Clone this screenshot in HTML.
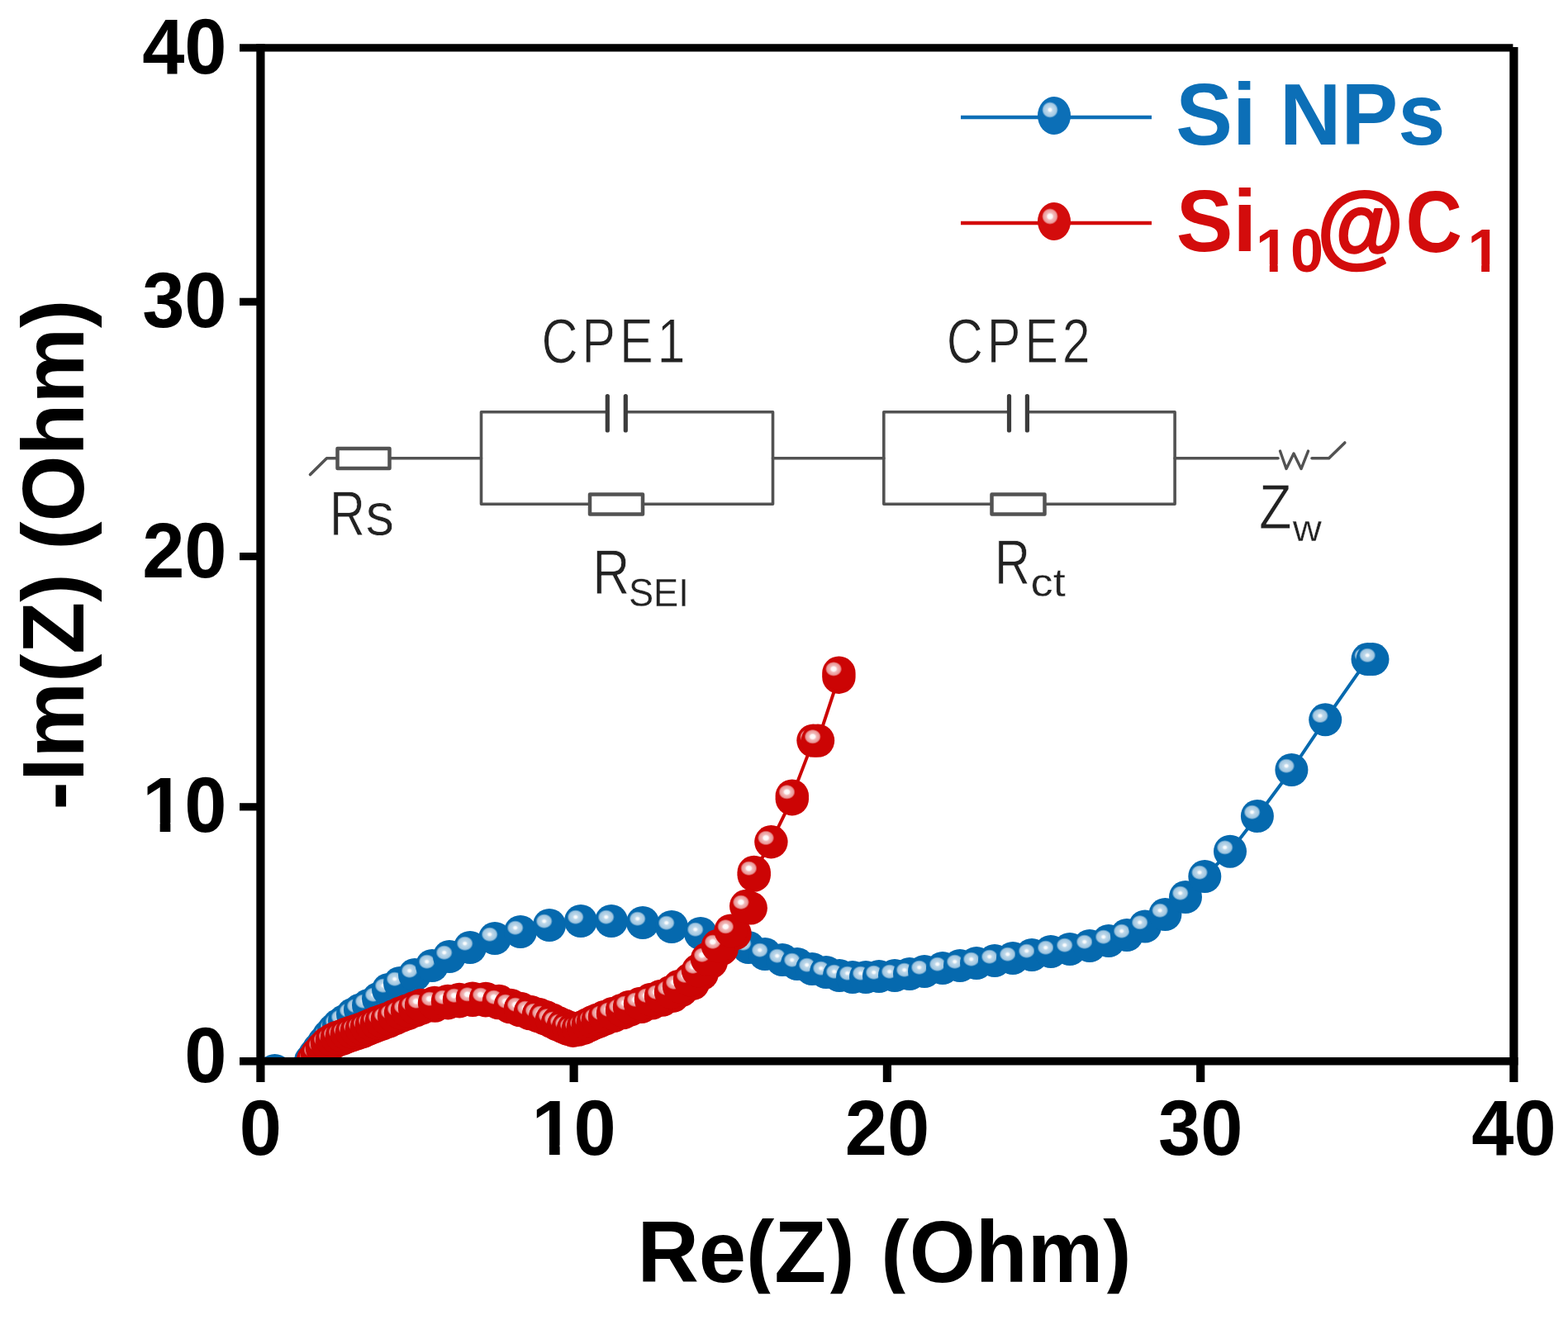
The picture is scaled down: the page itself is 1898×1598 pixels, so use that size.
<!DOCTYPE html>
<html lang="en">
<head>
<meta charset="utf-8">
<title>Nyquist plot - Si NPs vs Si10@C1</title>
<style>
html,body{margin:0;padding:0;background:#ffffff;}
body{width:1898px;height:1598px;overflow:hidden;}
svg{display:block;}
text{font-family:"Liberation Sans",Arial,Helvetica,sans-serif;}
.b{font-weight:700;}
.tick{font-size:92px;font-weight:700;fill:#000;}
.axl{font-size:103px;font-weight:700;fill:#000;}
.leg{font-size:103px;font-weight:700;}
.ckt{font-weight:400;fill:#222;}
</style>
</head>
<body>
<svg width="1898" height="1598" viewBox="0 0 1898 1598">
<defs>
<radialGradient id="hb" cx="0.5" cy="0.5" r="0.5">
<stop offset="0" stop-color="#ffffff" stop-opacity="1"/>
<stop offset="0.16" stop-color="#ffffff" stop-opacity="0.95"/>
<stop offset="0.34" stop-color="#ffffff" stop-opacity="0.74"/>
<stop offset="0.78" stop-color="#ffffff" stop-opacity="0.62"/>
<stop offset="1" stop-color="#ffffff" stop-opacity="0"/>
</radialGradient>
<radialGradient id="hr" cx="0.5" cy="0.5" r="0.5">
<stop offset="0" stop-color="#ffffff" stop-opacity="1"/>
<stop offset="0.28" stop-color="#ffffff" stop-opacity="0.96"/>
<stop offset="0.46" stop-color="#ffffff" stop-opacity="0.72"/>
<stop offset="0.8" stop-color="#ffffff" stop-opacity="0.58"/>
<stop offset="1" stop-color="#ffffff" stop-opacity="0"/>
</radialGradient>
<clipPath id="plot"><rect x="315.4" y="57.9" width="1517.0" height="1226.8"/></clipPath>
</defs>
<rect x="0" y="0" width="1898" height="1598" fill="#ffffff"/>

<g clip-path="url(#plot)">
<polyline fill="none" stroke="#0569ae" stroke-width="4" stroke-linejoin="round" points="332.6,1296.0 376.0,1284.0 381.0,1277.0 386.0,1270.0 392.0,1262.0 398.0,1254.0 404.0,1247.0 410.0,1241.0 417.0,1236.0 427.0,1228.0 436.0,1222.5 446.0,1217.0 458.0,1209.0 470.0,1198.0 484.0,1190.0 502.0,1180.0 523.0,1169.0 544.0,1158.0 569.0,1147.0 599.0,1136.0 630.0,1128.0 665.0,1120.0 703.0,1115.0 740.0,1115.0 778.0,1117.0 813.0,1122.0 848.0,1130.0 878.0,1138.0 906.0,1147.0 926.0,1155.0 947.0,1162.0 965.0,1167.0 983.0,1173.0 1000.0,1177.0 1016.0,1181.0 1032.0,1183.0 1048.0,1183.0 1064.0,1182.0 1083.0,1181.0 1101.0,1179.0 1119.0,1176.0 1141.0,1172.0 1162.0,1169.0 1182.0,1166.0 1204.0,1163.0 1226.0,1160.0 1249.0,1156.0 1272.0,1152.0 1295.0,1149.0 1319.0,1145.0 1342.0,1139.0 1364.0,1132.0 1386.0,1121.5 1410.4,1107.0 1435.0,1086.0 1458.3,1061.0 1489.0,1030.7 1521.9,988.0 1563.4,932.0 1604.2,871.3 1655.5,798.1 1661.5,798.1"/>
<circle cx="332.6" cy="1296.0" r="20.0" fill="#0569ae"/><ellipse cx="326.3" cy="1291.2" rx="10.2" ry="9" fill="url(#hb)"/>
<circle cx="376.0" cy="1284.0" r="20.0" fill="#0569ae"/><ellipse cx="369.7" cy="1279.2" rx="10.2" ry="9" fill="url(#hb)"/>
<circle cx="381.0" cy="1277.0" r="20.0" fill="#0569ae"/><ellipse cx="374.7" cy="1272.2" rx="10.2" ry="9" fill="url(#hb)"/>
<circle cx="386.0" cy="1270.0" r="20.0" fill="#0569ae"/><ellipse cx="379.7" cy="1265.2" rx="10.2" ry="9" fill="url(#hb)"/>
<circle cx="392.0" cy="1262.0" r="20.0" fill="#0569ae"/><ellipse cx="385.7" cy="1257.2" rx="10.2" ry="9" fill="url(#hb)"/>
<circle cx="398.0" cy="1254.0" r="20.0" fill="#0569ae"/><ellipse cx="391.7" cy="1249.2" rx="10.2" ry="9" fill="url(#hb)"/>
<circle cx="404.0" cy="1247.0" r="20.0" fill="#0569ae"/><ellipse cx="397.7" cy="1242.2" rx="10.2" ry="9" fill="url(#hb)"/>
<circle cx="410.0" cy="1241.0" r="20.0" fill="#0569ae"/><ellipse cx="403.7" cy="1236.2" rx="10.2" ry="9" fill="url(#hb)"/>
<circle cx="417.0" cy="1236.0" r="20.0" fill="#0569ae"/><ellipse cx="410.7" cy="1231.2" rx="10.2" ry="9" fill="url(#hb)"/>
<circle cx="427.0" cy="1228.0" r="20.0" fill="#0569ae"/><ellipse cx="420.7" cy="1223.2" rx="10.2" ry="9" fill="url(#hb)"/>
<circle cx="436.0" cy="1222.5" r="20.0" fill="#0569ae"/><ellipse cx="429.7" cy="1217.7" rx="10.2" ry="9" fill="url(#hb)"/>
<circle cx="446.0" cy="1217.0" r="20.0" fill="#0569ae"/><ellipse cx="439.7" cy="1212.2" rx="10.2" ry="9" fill="url(#hb)"/>
<circle cx="458.0" cy="1209.0" r="20.0" fill="#0569ae"/><ellipse cx="451.7" cy="1204.2" rx="10.2" ry="9" fill="url(#hb)"/>
<circle cx="470.0" cy="1198.0" r="20.0" fill="#0569ae"/><ellipse cx="463.7" cy="1193.2" rx="10.2" ry="9" fill="url(#hb)"/>
<circle cx="484.0" cy="1190.0" r="20.0" fill="#0569ae"/><ellipse cx="477.7" cy="1185.2" rx="10.2" ry="9" fill="url(#hb)"/>
<circle cx="502.0" cy="1180.0" r="20.0" fill="#0569ae"/><ellipse cx="495.7" cy="1175.2" rx="10.2" ry="9" fill="url(#hb)"/>
<circle cx="523.0" cy="1169.0" r="20.0" fill="#0569ae"/><ellipse cx="516.7" cy="1164.2" rx="10.2" ry="9" fill="url(#hb)"/>
<circle cx="544.0" cy="1158.0" r="20.0" fill="#0569ae"/><ellipse cx="537.7" cy="1153.2" rx="10.2" ry="9" fill="url(#hb)"/>
<circle cx="569.0" cy="1147.0" r="20.0" fill="#0569ae"/><ellipse cx="562.7" cy="1142.2" rx="10.2" ry="9" fill="url(#hb)"/>
<circle cx="599.0" cy="1136.0" r="20.0" fill="#0569ae"/><ellipse cx="592.7" cy="1131.2" rx="10.2" ry="9" fill="url(#hb)"/>
<circle cx="630.0" cy="1128.0" r="20.0" fill="#0569ae"/><ellipse cx="623.7" cy="1123.2" rx="10.2" ry="9" fill="url(#hb)"/>
<circle cx="665.0" cy="1120.0" r="20.0" fill="#0569ae"/><ellipse cx="658.7" cy="1115.2" rx="10.2" ry="9" fill="url(#hb)"/>
<circle cx="703.0" cy="1115.0" r="20.0" fill="#0569ae"/><ellipse cx="696.7" cy="1110.2" rx="10.2" ry="9" fill="url(#hb)"/>
<circle cx="740.0" cy="1115.0" r="20.0" fill="#0569ae"/><ellipse cx="733.7" cy="1110.2" rx="10.2" ry="9" fill="url(#hb)"/>
<circle cx="778.0" cy="1117.0" r="20.0" fill="#0569ae"/><ellipse cx="771.7" cy="1112.2" rx="10.2" ry="9" fill="url(#hb)"/>
<circle cx="813.0" cy="1122.0" r="20.0" fill="#0569ae"/><ellipse cx="806.7" cy="1117.2" rx="10.2" ry="9" fill="url(#hb)"/>
<circle cx="848.0" cy="1130.0" r="20.0" fill="#0569ae"/><ellipse cx="841.7" cy="1125.2" rx="10.2" ry="9" fill="url(#hb)"/>
<circle cx="878.0" cy="1138.0" r="20.0" fill="#0569ae"/><ellipse cx="871.7" cy="1133.2" rx="10.2" ry="9" fill="url(#hb)"/>
<circle cx="906.0" cy="1147.0" r="20.0" fill="#0569ae"/><ellipse cx="899.7" cy="1142.2" rx="10.2" ry="9" fill="url(#hb)"/>
<circle cx="926.0" cy="1155.0" r="20.0" fill="#0569ae"/><ellipse cx="919.7" cy="1150.2" rx="10.2" ry="9" fill="url(#hb)"/>
<circle cx="947.0" cy="1162.0" r="20.0" fill="#0569ae"/><ellipse cx="940.7" cy="1157.2" rx="10.2" ry="9" fill="url(#hb)"/>
<circle cx="965.0" cy="1167.0" r="20.0" fill="#0569ae"/><ellipse cx="958.7" cy="1162.2" rx="10.2" ry="9" fill="url(#hb)"/>
<circle cx="983.0" cy="1173.0" r="20.0" fill="#0569ae"/><ellipse cx="976.7" cy="1168.2" rx="10.2" ry="9" fill="url(#hb)"/>
<circle cx="1000.0" cy="1177.0" r="20.0" fill="#0569ae"/><ellipse cx="993.7" cy="1172.2" rx="10.2" ry="9" fill="url(#hb)"/>
<circle cx="1016.0" cy="1181.0" r="20.0" fill="#0569ae"/><ellipse cx="1009.7" cy="1176.2" rx="10.2" ry="9" fill="url(#hb)"/>
<circle cx="1032.0" cy="1183.0" r="20.0" fill="#0569ae"/><ellipse cx="1025.7" cy="1178.2" rx="10.2" ry="9" fill="url(#hb)"/>
<circle cx="1048.0" cy="1183.0" r="20.0" fill="#0569ae"/><ellipse cx="1041.7" cy="1178.2" rx="10.2" ry="9" fill="url(#hb)"/>
<circle cx="1064.0" cy="1182.0" r="20.0" fill="#0569ae"/><ellipse cx="1057.7" cy="1177.2" rx="10.2" ry="9" fill="url(#hb)"/>
<circle cx="1083.0" cy="1181.0" r="20.0" fill="#0569ae"/><ellipse cx="1076.7" cy="1176.2" rx="10.2" ry="9" fill="url(#hb)"/>
<circle cx="1101.0" cy="1179.0" r="20.0" fill="#0569ae"/><ellipse cx="1094.7" cy="1174.2" rx="10.2" ry="9" fill="url(#hb)"/>
<circle cx="1119.0" cy="1176.0" r="20.0" fill="#0569ae"/><ellipse cx="1112.7" cy="1171.2" rx="10.2" ry="9" fill="url(#hb)"/>
<circle cx="1141.0" cy="1172.0" r="20.0" fill="#0569ae"/><ellipse cx="1134.7" cy="1167.2" rx="10.2" ry="9" fill="url(#hb)"/>
<circle cx="1162.0" cy="1169.0" r="20.0" fill="#0569ae"/><ellipse cx="1155.7" cy="1164.2" rx="10.2" ry="9" fill="url(#hb)"/>
<circle cx="1182.0" cy="1166.0" r="20.0" fill="#0569ae"/><ellipse cx="1175.7" cy="1161.2" rx="10.2" ry="9" fill="url(#hb)"/>
<circle cx="1204.0" cy="1163.0" r="20.0" fill="#0569ae"/><ellipse cx="1197.7" cy="1158.2" rx="10.2" ry="9" fill="url(#hb)"/>
<circle cx="1226.0" cy="1160.0" r="20.0" fill="#0569ae"/><ellipse cx="1219.7" cy="1155.2" rx="10.2" ry="9" fill="url(#hb)"/>
<circle cx="1249.0" cy="1156.0" r="20.0" fill="#0569ae"/><ellipse cx="1242.7" cy="1151.2" rx="10.2" ry="9" fill="url(#hb)"/>
<circle cx="1272.0" cy="1152.0" r="20.0" fill="#0569ae"/><ellipse cx="1265.7" cy="1147.2" rx="10.2" ry="9" fill="url(#hb)"/>
<circle cx="1295.0" cy="1149.0" r="20.0" fill="#0569ae"/><ellipse cx="1288.7" cy="1144.2" rx="10.2" ry="9" fill="url(#hb)"/>
<circle cx="1319.0" cy="1145.0" r="20.0" fill="#0569ae"/><ellipse cx="1312.7" cy="1140.2" rx="10.2" ry="9" fill="url(#hb)"/>
<circle cx="1342.0" cy="1139.0" r="20.0" fill="#0569ae"/><ellipse cx="1335.7" cy="1134.2" rx="10.2" ry="9" fill="url(#hb)"/>
<circle cx="1364.0" cy="1132.0" r="20.0" fill="#0569ae"/><ellipse cx="1357.7" cy="1127.2" rx="10.2" ry="9" fill="url(#hb)"/>
<circle cx="1386.0" cy="1121.5" r="20.0" fill="#0569ae"/><ellipse cx="1379.7" cy="1116.7" rx="10.2" ry="9" fill="url(#hb)"/>
<circle cx="1410.4" cy="1107.0" r="20.0" fill="#0569ae"/><ellipse cx="1404.1" cy="1102.2" rx="10.2" ry="9" fill="url(#hb)"/>
<circle cx="1435.0" cy="1086.0" r="20.0" fill="#0569ae"/><ellipse cx="1428.7" cy="1081.2" rx="10.2" ry="9" fill="url(#hb)"/>
<circle cx="1458.3" cy="1061.0" r="20.0" fill="#0569ae"/><ellipse cx="1452.0" cy="1056.2" rx="10.2" ry="9" fill="url(#hb)"/>
<circle cx="1489.0" cy="1030.7" r="20.0" fill="#0569ae"/><ellipse cx="1482.7" cy="1025.9" rx="10.2" ry="9" fill="url(#hb)"/>
<circle cx="1521.9" cy="988.0" r="20.0" fill="#0569ae"/><ellipse cx="1515.6" cy="983.2" rx="10.2" ry="9" fill="url(#hb)"/>
<circle cx="1563.4" cy="932.0" r="20.0" fill="#0569ae"/><ellipse cx="1557.1" cy="927.2" rx="10.2" ry="9" fill="url(#hb)"/>
<circle cx="1604.2" cy="871.3" r="20.0" fill="#0569ae"/><ellipse cx="1597.9" cy="866.5" rx="10.2" ry="9" fill="url(#hb)"/>
<circle cx="1655.5" cy="798.1" r="20.0" fill="#0569ae"/><ellipse cx="1649.2" cy="793.3" rx="10.2" ry="9" fill="url(#hb)"/>
<circle cx="1661.5" cy="798.1" r="20.0" fill="#0569ae"/><ellipse cx="1655.2" cy="793.3" rx="10.2" ry="9" fill="url(#hb)"/>
<circle cx="381.8" cy="1285.0" r="20.2" fill="#cc0404"/>
<circle cx="386.8" cy="1278.2" r="20.2" fill="#cc0404"/>
<circle cx="392.6" cy="1271.4" r="20.2" fill="#cc0404"/>
<circle cx="398.2" cy="1265.7" r="20.2" fill="#cc0404"/>
<circle cx="403.8" cy="1262.0" r="20.2" fill="#cc0404"/>
<circle cx="409.3" cy="1259.2" r="20.2" fill="#cc0404"/>
<circle cx="415.2" cy="1257.3" r="20.2" fill="#cc0404"/>
<circle cx="421.2" cy="1254.8" r="20.2" fill="#cc0404"/>
<circle cx="427.1" cy="1252.8" r="20.2" fill="#cc0404"/>
<circle cx="433.1" cy="1250.8" r="20.2" fill="#cc0404"/>
<circle cx="439.2" cy="1248.8" r="20.2" fill="#cc0404"/>
<circle cx="445.3" cy="1246.2" r="20.2" fill="#cc0404"/>
<circle cx="451.3" cy="1243.7" r="20.2" fill="#cc0404"/>
<circle cx="457.2" cy="1241.3" r="20.2" fill="#cc0404"/>
<circle cx="463.1" cy="1239.3" r="20.2" fill="#cc0404"/>
<circle cx="470.3" cy="1236.7" r="20.2" fill="#cc0404"/>
<circle cx="478.4" cy="1233.2" r="20.2" fill="#cc0404"/>
<circle cx="486.3" cy="1229.7" r="20.2" fill="#cc0404"/>
<circle cx="494.2" cy="1226.8" r="20.2" fill="#cc0404"/>
<circle cx="503.2" cy="1223.3" r="20.2" fill="#cc0404"/>
<circle cx="510.8" cy="1220.4" r="20.2" fill="#cc0404"/>
<circle cx="526.5" cy="1217.5" r="20.2" fill="#cc0404"/>
<circle cx="542.3" cy="1214.2" r="20.2" fill="#cc0404"/>
<circle cx="556.2" cy="1212.2" r="20.2" fill="#cc0404"/>
<circle cx="572.1" cy="1210.8" r="20.2" fill="#cc0404"/>
<circle cx="587.8" cy="1211.2" r="20.2" fill="#cc0404"/>
<circle cx="603.4" cy="1214.1" r="20.2" fill="#cc0404"/>
<circle cx="617.3" cy="1219.1" r="20.2" fill="#cc0404"/>
<circle cx="629.3" cy="1223.1" r="20.2" fill="#cc0404"/>
<circle cx="641.3" cy="1227.1" r="20.2" fill="#cc0404"/>
<circle cx="651.3" cy="1230.1" r="20.2" fill="#cc0404"/>
<circle cx="659.2" cy="1233.0" r="20.2" fill="#cc0404"/>
<circle cx="667.1" cy="1236.5" r="20.2" fill="#cc0404"/>
<circle cx="674.1" cy="1240.0" r="20.2" fill="#cc0404"/>
<circle cx="681.1" cy="1243.0" r="20.2" fill="#cc0404"/>
<circle cx="687.2" cy="1245.6" r="20.2" fill="#cc0404"/>
<circle cx="693.7" cy="1247.7" r="20.2" fill="#cc0404"/>
<circle cx="700.3" cy="1246.5" r="20.2" fill="#cc0404"/>
<circle cx="706.7" cy="1244.6" r="20.2" fill="#cc0404"/>
<circle cx="712.9" cy="1241.7" r="20.2" fill="#cc0404"/>
<circle cx="718.9" cy="1238.9" r="20.2" fill="#cc0404"/>
<circle cx="724.9" cy="1236.6" r="20.2" fill="#cc0404"/>
<circle cx="733.0" cy="1233.4" r="20.2" fill="#cc0404"/>
<circle cx="743.1" cy="1229.8" r="20.2" fill="#cc0404"/>
<circle cx="754.2" cy="1226.1" r="20.2" fill="#cc0404"/>
<circle cx="763.2" cy="1222.4" r="20.2" fill="#cc0404"/>
<circle cx="776.3" cy="1218.9" r="20.2" fill="#cc0404"/>
<circle cx="789.5" cy="1214.3" r="20.2" fill="#cc0404"/>
<circle cx="801.7" cy="1210.6" r="20.2" fill="#cc0404"/>
<circle cx="814.6" cy="1205.7" r="20.2" fill="#cc0404"/>
<circle cx="825.1" cy="1198.8" r="20.2" fill="#cc0404"/>
<circle cx="838.8" cy="1190.6" r="20.2" fill="#cc0404"/>
<circle cx="849.6" cy="1178.9" r="20.2" fill="#cc0404"/>
<circle cx="860.7" cy="1164.7" r="20.2" fill="#cc0404"/>
<circle cx="873.6" cy="1148.8" r="20.2" fill="#cc0404"/>
<circle cx="889.5" cy="1130.1" r="20.2" fill="#cc0404"/>
<circle cx="908.7" cy="1099.3" r="20.2" fill="#cc0404"/>
<polyline fill="none" stroke="#cc0404" stroke-width="4" stroke-linejoin="round" points="379.0,1283.0 384.0,1276.0 390.0,1269.0 396.0,1263.0 402.0,1259.0 408.0,1256.0 414.0,1254.0 420.0,1251.5 426.0,1249.5 432.0,1247.5 438.0,1245.5 444.0,1243.0 450.0,1240.5 456.0,1238.0 462.0,1236.0 469.0,1233.5 477.0,1230.0 485.0,1226.5 493.0,1223.5 502.0,1220.0 510.0,1217.0 526.0,1214.0 542.0,1212.0 556.0,1210.0 572.0,1208.6 588.0,1209.0 604.0,1212.0 618.0,1217.0 630.0,1221.0 642.0,1225.0 652.0,1228.0 660.0,1231.0 668.0,1234.5 675.0,1238.0 682.0,1241.0 688.0,1243.5 694.0,1245.5 700.0,1245.0 706.0,1243.0 712.0,1240.0 718.0,1237.0 724.0,1234.5 732.0,1231.0 742.0,1227.0 753.0,1223.0 762.0,1219.0 775.0,1215.0 788.0,1210.0 800.0,1206.0 812.0,1201.0 822.0,1194.0 835.0,1186.0 845.0,1175.0 856.0,1161.0 869.0,1145.0 884.6,1126.6 903.2,1097.0 912.7,1059.5 912.7,1056.0 933.4,1019.2 958.8,967.2 958.8,963.6 984.5,896.6 990.0,896.6 1015.4,819.7 1015.4,814.7"/>
<circle cx="379.0" cy="1283.0" r="20.2" fill="#cc0404"/><ellipse cx="372.7" cy="1278.2" rx="10.2" ry="9" fill="url(#hr)"/>
<circle cx="384.0" cy="1276.0" r="20.2" fill="#cc0404"/><ellipse cx="377.7" cy="1271.2" rx="10.2" ry="9" fill="url(#hr)"/>
<circle cx="390.0" cy="1269.0" r="20.2" fill="#cc0404"/><ellipse cx="383.7" cy="1264.2" rx="10.2" ry="9" fill="url(#hr)"/>
<circle cx="396.0" cy="1263.0" r="20.2" fill="#cc0404"/><ellipse cx="389.7" cy="1258.2" rx="10.2" ry="9" fill="url(#hr)"/>
<circle cx="402.0" cy="1259.0" r="20.2" fill="#cc0404"/><ellipse cx="395.7" cy="1254.2" rx="10.2" ry="9" fill="url(#hr)"/>
<circle cx="408.0" cy="1256.0" r="20.2" fill="#cc0404"/><ellipse cx="401.7" cy="1251.2" rx="10.2" ry="9" fill="url(#hr)"/>
<circle cx="414.0" cy="1254.0" r="20.2" fill="#cc0404"/><ellipse cx="407.7" cy="1249.2" rx="10.2" ry="9" fill="url(#hr)"/>
<circle cx="420.0" cy="1251.5" r="20.2" fill="#cc0404"/><ellipse cx="413.7" cy="1246.7" rx="10.2" ry="9" fill="url(#hr)"/>
<circle cx="426.0" cy="1249.5" r="20.2" fill="#cc0404"/><ellipse cx="419.7" cy="1244.7" rx="10.2" ry="9" fill="url(#hr)"/>
<circle cx="432.0" cy="1247.5" r="20.2" fill="#cc0404"/><ellipse cx="425.7" cy="1242.7" rx="10.2" ry="9" fill="url(#hr)"/>
<circle cx="438.0" cy="1245.5" r="20.2" fill="#cc0404"/><ellipse cx="431.7" cy="1240.7" rx="10.2" ry="9" fill="url(#hr)"/>
<circle cx="444.0" cy="1243.0" r="20.2" fill="#cc0404"/><ellipse cx="437.7" cy="1238.2" rx="10.2" ry="9" fill="url(#hr)"/>
<circle cx="450.0" cy="1240.5" r="20.2" fill="#cc0404"/><ellipse cx="443.7" cy="1235.7" rx="10.2" ry="9" fill="url(#hr)"/>
<circle cx="456.0" cy="1238.0" r="20.2" fill="#cc0404"/><ellipse cx="449.7" cy="1233.2" rx="10.2" ry="9" fill="url(#hr)"/>
<circle cx="462.0" cy="1236.0" r="20.2" fill="#cc0404"/><ellipse cx="455.7" cy="1231.2" rx="10.2" ry="9" fill="url(#hr)"/>
<circle cx="469.0" cy="1233.5" r="20.2" fill="#cc0404"/><ellipse cx="462.7" cy="1228.7" rx="10.2" ry="9" fill="url(#hr)"/>
<circle cx="477.0" cy="1230.0" r="20.2" fill="#cc0404"/><ellipse cx="470.7" cy="1225.2" rx="10.2" ry="9" fill="url(#hr)"/>
<circle cx="485.0" cy="1226.5" r="20.2" fill="#cc0404"/><ellipse cx="478.7" cy="1221.7" rx="10.2" ry="9" fill="url(#hr)"/>
<circle cx="493.0" cy="1223.5" r="20.2" fill="#cc0404"/><ellipse cx="486.7" cy="1218.7" rx="10.2" ry="9" fill="url(#hr)"/>
<circle cx="502.0" cy="1220.0" r="20.2" fill="#cc0404"/><ellipse cx="495.7" cy="1215.2" rx="10.2" ry="9" fill="url(#hr)"/>
<circle cx="510.0" cy="1217.0" r="20.2" fill="#cc0404"/><ellipse cx="503.7" cy="1212.2" rx="10.2" ry="9" fill="url(#hr)"/>
<circle cx="526.0" cy="1214.0" r="20.2" fill="#cc0404"/><ellipse cx="519.7" cy="1209.2" rx="10.2" ry="9" fill="url(#hr)"/>
<circle cx="542.0" cy="1212.0" r="20.2" fill="#cc0404"/><ellipse cx="535.7" cy="1207.2" rx="10.2" ry="9" fill="url(#hr)"/>
<circle cx="556.0" cy="1210.0" r="20.2" fill="#cc0404"/><ellipse cx="549.7" cy="1205.2" rx="10.2" ry="9" fill="url(#hr)"/>
<circle cx="572.0" cy="1208.6" r="20.2" fill="#cc0404"/><ellipse cx="565.7" cy="1203.8" rx="10.2" ry="9" fill="url(#hr)"/>
<circle cx="588.0" cy="1209.0" r="20.2" fill="#cc0404"/><ellipse cx="581.7" cy="1204.2" rx="10.2" ry="9" fill="url(#hr)"/>
<circle cx="604.0" cy="1212.0" r="20.2" fill="#cc0404"/><ellipse cx="597.7" cy="1207.2" rx="10.2" ry="9" fill="url(#hr)"/>
<circle cx="618.0" cy="1217.0" r="20.2" fill="#cc0404"/><ellipse cx="611.7" cy="1212.2" rx="10.2" ry="9" fill="url(#hr)"/>
<circle cx="630.0" cy="1221.0" r="20.2" fill="#cc0404"/><ellipse cx="623.7" cy="1216.2" rx="10.2" ry="9" fill="url(#hr)"/>
<circle cx="642.0" cy="1225.0" r="20.2" fill="#cc0404"/><ellipse cx="635.7" cy="1220.2" rx="10.2" ry="9" fill="url(#hr)"/>
<circle cx="652.0" cy="1228.0" r="20.2" fill="#cc0404"/><ellipse cx="645.7" cy="1223.2" rx="10.2" ry="9" fill="url(#hr)"/>
<circle cx="660.0" cy="1231.0" r="20.2" fill="#cc0404"/><ellipse cx="653.7" cy="1226.2" rx="10.2" ry="9" fill="url(#hr)"/>
<circle cx="668.0" cy="1234.5" r="20.2" fill="#cc0404"/><ellipse cx="661.7" cy="1229.7" rx="10.2" ry="9" fill="url(#hr)"/>
<circle cx="675.0" cy="1238.0" r="20.2" fill="#cc0404"/><ellipse cx="668.7" cy="1233.2" rx="10.2" ry="9" fill="url(#hr)"/>
<circle cx="682.0" cy="1241.0" r="20.2" fill="#cc0404"/><ellipse cx="675.7" cy="1236.2" rx="10.2" ry="9" fill="url(#hr)"/>
<circle cx="688.0" cy="1243.5" r="20.2" fill="#cc0404"/><ellipse cx="681.7" cy="1238.7" rx="10.2" ry="9" fill="url(#hr)"/>
<circle cx="694.0" cy="1245.5" r="20.2" fill="#cc0404"/><ellipse cx="687.7" cy="1240.7" rx="10.2" ry="9" fill="url(#hr)"/>
<circle cx="700.0" cy="1245.0" r="20.2" fill="#cc0404"/><ellipse cx="693.7" cy="1240.2" rx="10.2" ry="9" fill="url(#hr)"/>
<circle cx="706.0" cy="1243.0" r="20.2" fill="#cc0404"/><ellipse cx="699.7" cy="1238.2" rx="10.2" ry="9" fill="url(#hr)"/>
<circle cx="712.0" cy="1240.0" r="20.2" fill="#cc0404"/><ellipse cx="705.7" cy="1235.2" rx="10.2" ry="9" fill="url(#hr)"/>
<circle cx="718.0" cy="1237.0" r="20.2" fill="#cc0404"/><ellipse cx="711.7" cy="1232.2" rx="10.2" ry="9" fill="url(#hr)"/>
<circle cx="724.0" cy="1234.5" r="20.2" fill="#cc0404"/><ellipse cx="717.7" cy="1229.7" rx="10.2" ry="9" fill="url(#hr)"/>
<circle cx="732.0" cy="1231.0" r="20.2" fill="#cc0404"/><ellipse cx="725.7" cy="1226.2" rx="10.2" ry="9" fill="url(#hr)"/>
<circle cx="742.0" cy="1227.0" r="20.2" fill="#cc0404"/><ellipse cx="735.7" cy="1222.2" rx="10.2" ry="9" fill="url(#hr)"/>
<circle cx="753.0" cy="1223.0" r="20.2" fill="#cc0404"/><ellipse cx="746.7" cy="1218.2" rx="10.2" ry="9" fill="url(#hr)"/>
<circle cx="762.0" cy="1219.0" r="20.2" fill="#cc0404"/><ellipse cx="755.7" cy="1214.2" rx="10.2" ry="9" fill="url(#hr)"/>
<circle cx="775.0" cy="1215.0" r="20.2" fill="#cc0404"/><ellipse cx="768.7" cy="1210.2" rx="10.2" ry="9" fill="url(#hr)"/>
<circle cx="788.0" cy="1210.0" r="20.2" fill="#cc0404"/><ellipse cx="781.7" cy="1205.2" rx="10.2" ry="9" fill="url(#hr)"/>
<circle cx="800.0" cy="1206.0" r="20.2" fill="#cc0404"/><ellipse cx="793.7" cy="1201.2" rx="10.2" ry="9" fill="url(#hr)"/>
<circle cx="812.0" cy="1201.0" r="20.2" fill="#cc0404"/><ellipse cx="805.7" cy="1196.2" rx="10.2" ry="9" fill="url(#hr)"/>
<circle cx="822.0" cy="1194.0" r="20.2" fill="#cc0404"/><ellipse cx="815.7" cy="1189.2" rx="10.2" ry="9" fill="url(#hr)"/>
<circle cx="835.0" cy="1186.0" r="20.2" fill="#cc0404"/><ellipse cx="828.7" cy="1181.2" rx="10.2" ry="9" fill="url(#hr)"/>
<circle cx="845.0" cy="1175.0" r="20.2" fill="#cc0404"/><ellipse cx="838.7" cy="1170.2" rx="10.2" ry="9" fill="url(#hr)"/>
<circle cx="856.0" cy="1161.0" r="20.2" fill="#cc0404"/><ellipse cx="849.7" cy="1156.2" rx="10.2" ry="9" fill="url(#hr)"/>
<circle cx="869.0" cy="1145.0" r="20.2" fill="#cc0404"/><ellipse cx="862.7" cy="1140.2" rx="10.2" ry="9" fill="url(#hr)"/>
<circle cx="884.6" cy="1126.6" r="20.2" fill="#cc0404"/><ellipse cx="878.3" cy="1121.8" rx="10.2" ry="9" fill="url(#hr)"/>
<circle cx="903.2" cy="1097.0" r="20.2" fill="#cc0404"/><ellipse cx="896.9" cy="1092.2" rx="10.2" ry="9" fill="url(#hr)"/>
<circle cx="912.7" cy="1059.5" r="20.2" fill="#cc0404"/><ellipse cx="906.4" cy="1054.7" rx="10.2" ry="9" fill="url(#hr)"/>
<circle cx="912.7" cy="1056.0" r="20.2" fill="#cc0404"/><ellipse cx="906.4" cy="1051.2" rx="10.2" ry="9" fill="url(#hr)"/>
<circle cx="933.4" cy="1019.2" r="20.2" fill="#cc0404"/><ellipse cx="927.1" cy="1014.4" rx="10.2" ry="9" fill="url(#hr)"/>
<circle cx="958.8" cy="967.2" r="20.2" fill="#cc0404"/><ellipse cx="952.5" cy="962.4" rx="10.2" ry="9" fill="url(#hr)"/>
<circle cx="958.8" cy="963.6" r="20.2" fill="#cc0404"/><ellipse cx="952.5" cy="958.8" rx="10.2" ry="9" fill="url(#hr)"/>
<circle cx="984.5" cy="896.6" r="20.2" fill="#cc0404"/><ellipse cx="978.2" cy="891.8" rx="10.2" ry="9" fill="url(#hr)"/>
<circle cx="990.0" cy="896.6" r="20.2" fill="#cc0404"/><ellipse cx="983.7" cy="891.8" rx="10.2" ry="9" fill="url(#hr)"/>
<circle cx="1015.4" cy="819.7" r="20.2" fill="#cc0404"/><ellipse cx="1009.1" cy="814.9" rx="10.2" ry="9" fill="url(#hr)"/>
<circle cx="1015.4" cy="814.7" r="20.2" fill="#cc0404"/><ellipse cx="1009.1" cy="809.9" rx="10.2" ry="9" fill="url(#hr)"/>
</g>
<g stroke="#000" fill="none" stroke-linecap="butt">
<line x1="315.4" y1="53.2" x2="315.4" y2="1310" stroke-width="10.2"/>
<line x1="1832.4" y1="57" x2="1832.4" y2="1310" stroke-width="10.2"/>
<line x1="290" y1="57.9" x2="1831.4" y2="57.9" stroke-width="9.4"/>
<line x1="290" y1="1284.7" x2="1837.5" y2="1284.7" stroke-width="9.6"/>
<line x1="290" y1="976.8" x2="316" y2="976.8" stroke-width="9.2"/>
<line x1="694.6" y1="1284" x2="694.6" y2="1310" stroke-width="10.2"/>
<line x1="290" y1="673.6" x2="316" y2="673.6" stroke-width="9.2"/>
<line x1="1073.9" y1="1284" x2="1073.9" y2="1310" stroke-width="10.2"/>
<line x1="290" y1="365.3" x2="316" y2="365.3" stroke-width="9.2"/>
<line x1="1453.2" y1="1284" x2="1453.2" y2="1310" stroke-width="10.2"/>
</g>
<text class="tick" transform="translate(274.5,1310.2) scale(1,1.03)" text-anchor="end">0</text>
<text class="tick" transform="translate(274.5,1007.3) scale(1,1.03)" text-anchor="end">10</text>
<text class="tick" transform="translate(274.5,698.9) scale(1,1.03)" text-anchor="end">20</text>
<text class="tick" transform="translate(274.5,396.0) scale(1,1.03)" text-anchor="end">30</text>
<text class="tick" transform="translate(274.5,89.3) scale(1,1.03)" text-anchor="end">40</text>
<text class="tick" transform="translate(315.4,1397.5) scale(1,1.03)" text-anchor="middle">0</text>
<text class="tick" transform="translate(694.6,1397.5) scale(1,1.03)" text-anchor="middle">10</text>
<text class="tick" transform="translate(1073.9,1397.5) scale(1,1.03)" text-anchor="middle">20</text>
<text class="tick" transform="translate(1453.2,1397.5) scale(1,1.03)" text-anchor="middle">30</text>
<text class="tick" transform="translate(1832.4,1397.5) scale(1,1.03)" text-anchor="middle">40</text>
<rect x="175.88" y="996.13" width="17.76" height="12.67" fill="#ffffff"/><rect x="206.33" y="996.13" width="16.47" height="12.67" fill="#ffffff"/>
<rect x="647.18" y="1386.33" width="17.76" height="12.67" fill="#ffffff"/><rect x="677.63" y="1386.33" width="16.47" height="12.67" fill="#ffffff"/>
<clipPath id="xlc"><rect x="0" y="1400" width="1898" height="166.3"/></clipPath>
<g clip-path="url(#xlc)"><text class="axl" transform="translate(771.4,1551.5) scale(1,1.035)">Re(Z) <tspan dx="3.2">(Ohm)</tspan></text></g>
<text class="axl" transform="translate(100.5,980.4) rotate(-90) scale(1,1.02)">-Im(Z) (Ohm)</text>
<g>
<line x1="1163" y1="142" x2="1394" y2="142" stroke="#0c6fb7" stroke-width="4.5"/>
<ellipse cx="1276" cy="140" rx="20" ry="23" fill="#0c6fb7"/><circle cx="1271" cy="133" r="10" fill="url(#hb)"/>
<line x1="1163" y1="270" x2="1394" y2="270" stroke="#d30c0c" stroke-width="4.5"/>
<ellipse cx="1276" cy="268" rx="20" ry="23" fill="#d30c0c"/><circle cx="1271" cy="262" r="10" fill="url(#hr)"/>
<text class="leg" transform="translate(1423.2,175) scale(1,1.03)" fill="#0c6fb7">Si NPs</text>
<text class="leg" transform="scale(1,1.03)" fill="#d30c0c"><tspan x="1423.8" y="295.15">Si</tspan><tspan x="1520 1562" y="319.4" font-size="72">10</tspan><tspan x="1594.2" y="301.2" font-size="107.5" stroke="#d30c0c" stroke-width="2.4" stroke-linejoin="round">@</tspan><tspan x="1701.4" y="295.9" font-size="103" textLength="68.4" lengthAdjust="spacingAndGlyphs">C</tspan><tspan x="1776.4" y="319.4" font-size="72">1</tspan></text>
</g>
<rect x="1522.88" y="319.90" width="13.90" height="10.60" fill="#ffffff"/><rect x="1546.71" y="319.90" width="12.89" height="10.60" fill="#ffffff"/>
<rect x="1779.28" y="319.90" width="13.90" height="10.60" fill="#ffffff"/><rect x="1803.11" y="319.90" width="12.89" height="10.60" fill="#ffffff"/>
<g fill="none" stroke="#525252" stroke-width="3.6" stroke-linecap="round" stroke-linejoin="round">
<polyline points="375.5,574.5 395.5,554.7 407,554.7"/>
<rect x="408.5" y="543" width="63" height="24" stroke-width="4.5"/>
<line x1="473" y1="554.7" x2="582.5" y2="554.7"/>
<polyline points="735,498.7 582.5,498.7 582.5,610.3 712,610.3"/>
<polyline points="757,498.7 935.5,498.7 935.5,610.3 780,610.3"/>
<line x1="735.3" y1="479.5" x2="735.3" y2="521" stroke-width="5.2" stroke="#3c3c3c"/>
<line x1="757.3" y1="479.5" x2="757.3" y2="521" stroke-width="5.2" stroke="#3c3c3c"/>
<rect x="714" y="598.5" width="64" height="24" stroke-width="4.5"/>
<line x1="935.5" y1="554.7" x2="1069.8" y2="554.7"/>
<polyline points="1221.5,498.7 1069.8,498.7 1069.8,610.3 1199,610.3"/>
<polyline points="1243.4,498.7 1422.1,498.7 1422.1,610.3 1266,610.3"/>
<line x1="1221.5" y1="479.5" x2="1221.5" y2="521" stroke-width="5.2" stroke="#3c3c3c"/>
<line x1="1243.4" y1="479.5" x2="1243.4" y2="521" stroke-width="5.2" stroke="#3c3c3c"/>
<rect x="1200.5" y="598.5" width="64" height="24" stroke-width="4.5"/>
<line x1="1422.1" y1="554.7" x2="1547" y2="554.7"/>
<polyline points="1549.5,546 1557,567.5 1566,549 1575,567.5 1583.5,546" stroke-width="3.4"/>
<polyline points="1588,554.7 1608.6,554.7 1627.8,536"/>
</g>
<g stroke="#ffffff" stroke-width="1.0" stroke-linejoin="round">
<text class="ckt" transform="translate(655.5,439.4) scale(0.8,1)" font-size="76.3" letter-spacing="6">CPE1</text>
<text class="ckt" transform="translate(1145.8,439.4) scale(0.8,1)" font-size="76.3" letter-spacing="6">CPE2</text>
<text class="ckt"><tspan x="398.9" y="648.0" font-size="75.9" textLength="43.0" lengthAdjust="spacingAndGlyphs" stroke-width="0.8">R</tspan><tspan x="442.4" y="648.0" font-size="73.9" textLength="34.7" lengthAdjust="spacingAndGlyphs" stroke-width="0.8">s</tspan></text>
<text class="ckt"><tspan x="717.3" y="718.8" font-size="75.9" textLength="45.1" lengthAdjust="spacingAndGlyphs" stroke-width="0.8">R</tspan><tspan x="761.0" y="734.2" font-size="48.6" textLength="72.8" lengthAdjust="spacingAndGlyphs" stroke-width="0.3">SEI</tspan></text>
<text class="ckt"><tspan x="1204.1" y="707.0" font-size="75.9" textLength="43.0" lengthAdjust="spacingAndGlyphs" stroke-width="0.8">R</tspan><tspan x="1247.6" y="721.8" font-size="48.9" textLength="42.2" lengthAdjust="spacingAndGlyphs" stroke-width="0.3">ct</tspan></text>
<text class="ckt"><tspan x="1523.9" y="639.6" font-size="75.9" textLength="39.5" lengthAdjust="spacingAndGlyphs" stroke-width="0.8">Z</tspan><tspan x="1564.7" y="654.8" font-size="44.7" textLength="35.1" lengthAdjust="spacingAndGlyphs" stroke-width="0.3">w</tspan></text>
</g>
</svg>
</body>
</html>
